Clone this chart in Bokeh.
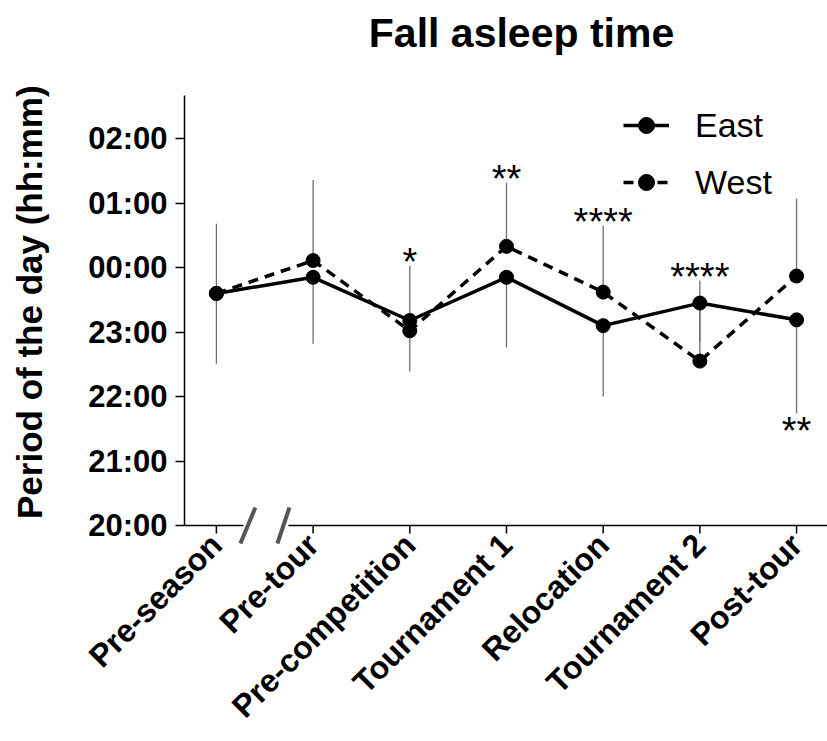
import numpy as np
from bokeh.plotting import figure
from bokeh.models import Range1d, FixedTicker, Legend, LegendItem
from bokeh.core.properties import value
from bokeh.embed import file_html
from bokeh.resources import INLINE

# ---------------- data (hours; 24 = midnight) ----------------
phases = ["Pre-season", "Pre-tour", "Pre-competition", "Tournament 1",
          "Relocation", "Tournament 2", "Post-tour"]
east_mean = [23.60, 23.85, 23.18, 23.85, 23.10, 23.45, 23.19]
east_sd = [1.09, 1.03, 0.79, 1.09, 1.10, 0.60, 1.45]      # drawn downward
west_mean = [23.60, 24.11, 23.02, 24.33, 23.62, 22.55, 23.87]
west_sd = [1.08, 1.25, 1.01, 0.99, 1.03, 1.25, 1.20]      # drawn upward

y_tick_hours = [20, 21, 22, 23, 24, 25, 26]
y_tick_labels = ["20:00", "21:00", "22:00", "23:00", "00:00", "01:00", "02:00"]

sig_phase = ["Pre-competition", "Tournament 1", "Relocation", "Tournament 2", "Post-tour"]
sig_text = ["*", "**", "****", "****", "**"]
sig_side = ["above", "above", "above", "above", "below"]

title_text = "Fall asleep time"
y_label = "Period of the day (hh:mm)"

FONT = "Liberation Sans"

# ---------------- geometry ----------------
W, H = 827, 741
AX_LEFT, AX_BOTTOM, AX_TOP = 184, 525, 95      # axis-line pixel positions
X_AX, X_END = -0.33, 6.32                       # data x at the y axis / right edge
Y_AX, Y_TOP = 20.0, 26.67                       # data y at the x axis / top of y axis
XPX = (W - AX_LEFT) / (X_END - X_AX)
PX = (AX_BOTTOM - AX_TOP) / (Y_TOP - Y_AX)
FL, FB = 180, 545                               # frame left / bottom in pixels

x_range = Range1d(X_AX - (AX_LEFT - FL) / XPX, X_END)
y_range = Range1d(Y_AX - (FB - AX_BOTTOM) / PX, Y_TOP + AX_TOP / PX)

xs = list(range(len(phases)))

p = figure(width=W, height=H, x_range=x_range, y_range=y_range, title=None,
           output_backend="svg", toolbar_location=None,
           min_border_left=FL, min_border_right=0,
           min_border_top=0, min_border_bottom=H - FB,
           outline_line_color=None, background_fill_color="white",
           border_fill_color="white")
p.xgrid.visible = False
p.ygrid.visible = False

# ---- y axis (Bokeh ticks + labels; line drawn separately) ----
ya = p.yaxis[0]
ya.ticker = FixedTicker(ticks=y_tick_hours)
ya.major_label_overrides = {h: l for h, l in zip(y_tick_hours, y_tick_labels)}
ya.axis_line_color = None
ya.major_tick_line_color = "black"
ya.major_tick_line_width = 1.5
ya.major_tick_in = AX_LEFT - FL
ya.major_tick_out = 5
ya.minor_tick_line_color = None
ya.major_label_text_font = FONT
ya.major_label_text_font_style = "bold"
ya.major_label_text_font_size = "31px"
ya.major_label_text_color = "black"
ya.major_label_standoff = 8
# trailing no-break spaces shift the centred label down onto the axis span
ya.axis_label = y_label + "\u00a0" * 6
ya.axis_label_text_font = FONT
ya.axis_label_text_font_size = "35px"
ya.axis_label_text_font_style = "bold"
ya.axis_label_text_color = "black"
ya.axis_label_standoff = 36

# ---- x axis (Bokeh labels only; line and ticks drawn separately) ----
xa = p.xaxis[0]
xa.ticker = FixedTicker(ticks=xs)
xa.major_label_overrides = {i: n for i, n in zip(xs, phases)}
xa.major_label_orientation = np.pi / 4
xa.axis_line_color = None
xa.major_tick_line_color = None
xa.major_tick_out = 0
xa.major_tick_in = 0
xa.minor_tick_line_color = None
xa.major_label_text_font = FONT
xa.major_label_text_font_style = "bold"
xa.major_label_text_font_size = "32px"
xa.major_label_text_color = "black"
xa.major_label_standoff = -(FB - AX_BOTTOM) + 14

# axis lines (x axis broken between Pre-season and Pre-tour)
gap_l, gap_r = 0.28, 0.745
p.segment(x0=[X_AX, gap_r, X_AX], y0=[Y_AX, Y_AX, Y_AX],
          x1=[gap_l, X_END, X_AX], y1=[Y_AX, Y_AX, Y_TOP],
          line_color="black", line_width=1.5)
# x tick marks
p.segment(x0=xs, y0=[Y_AX] * len(xs), x1=xs, y1=[Y_AX - 8 / PX] * len(xs),
          line_color="black", line_width=1.5)
# break slashes
p.segment(x0=[0.248, 0.631], y0=[Y_AX - 18 / PX] * 2,
          x1=[0.403, 0.755], y1=[Y_AX + 18 / PX] * 2,
          line_color="#555555", line_width=4)

# error bars (West upward, East downward)
west_up = [m + s for m, s in zip(west_mean, west_sd)]
east_dn = [m - s for m, s in zip(east_mean, east_sd)]
p.segment(x0=xs, y0=west_mean, x1=xs, y1=west_up, line_color="#6e6e6e", line_width=1.3)
p.segment(x0=xs, y0=east_mean, x1=xs, y1=east_dn, line_color="#6e6e6e", line_width=1.3)

# lines and markers
west_line = p.line(xs, west_mean, line_color="black", line_width=3.5, line_dash="10 7")
west_pts = p.scatter(xs, west_mean, size=14, fill_color="black", line_color="black")
east_line = p.line(xs, east_mean, line_color="black", line_width=3.5)
east_pts = p.scatter(xs, east_mean, size=14, fill_color="black", line_color="black")

# significance stars
sx, sy, st = [], [], []
for ph, t, side in zip(sig_phase, sig_text, sig_side):
    i = phases.index(ph)
    sx.append(i)
    st.append(t)
    if side == "above":
        sy.append(west_up[i] + 4 / PX)
    else:
        sy.append(east_dn[i] - 18 / PX)
p.text(x=sx, y=sy, text=st, text_font=value(FONT), text_font_size="38px",
       text_align="center", text_baseline="alphabetic", text_color="black")

# title
p.text(x=[X_AX + (521 - AX_LEFT) / XPX], y=[Y_TOP + (AX_TOP - 32) / PX], text=[title_text],
       text_font=value(FONT), text_font_size="41px", text_font_style="bold",
       text_align="center", text_baseline="alphabetic", text_color="black")

# legend
legend = Legend(items=[LegendItem(label="East", renderers=[east_line, east_pts]),
                       LegendItem(label="West", renderers=[west_line, west_pts])],
                location=(623 - FL, FB - 202), label_text_font=FONT,
                label_text_font_size="34px", label_text_color="black",
                glyph_width=46, glyph_height=40, label_height=40, label_standoff=26,
                spacing=17, padding=0, margin=0, border_line_color=None,
                background_fill_alpha=0)
p.add_layout(legend)

open("out.html", "w").write(file_html(p, INLINE))
